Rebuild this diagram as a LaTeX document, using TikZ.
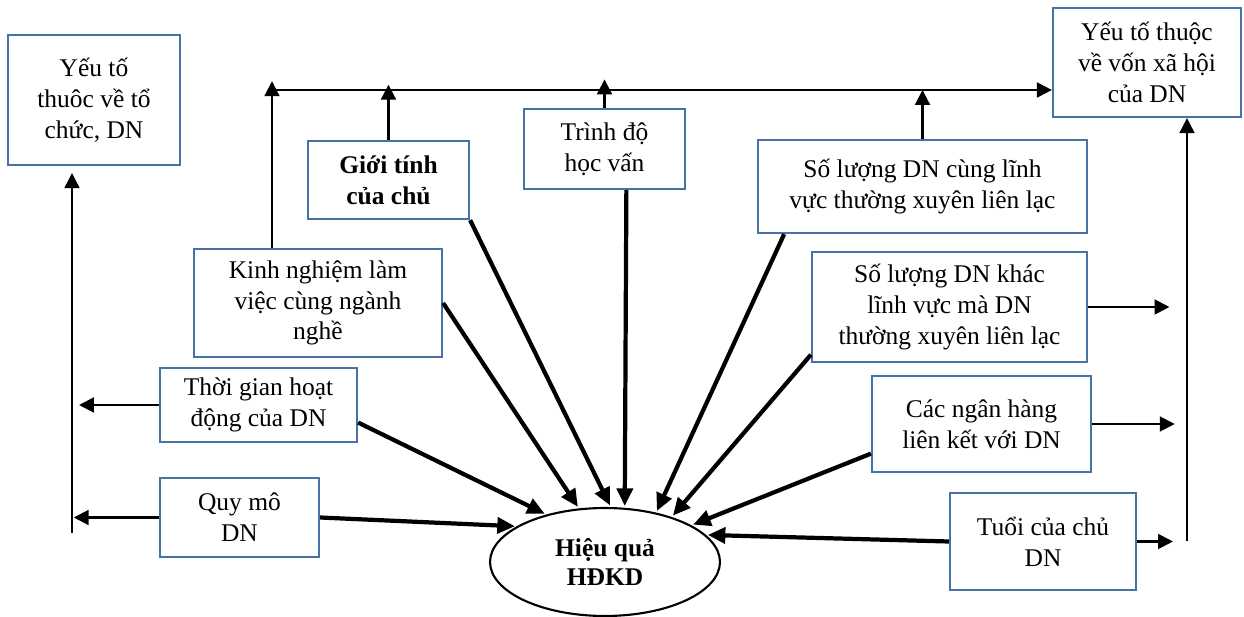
\documentclass[tikz,border=0pt]{standalone}
\usepackage{fontspec}
\setmainfont{Liberation Serif}
\usepackage{xcolor}
\usepackage{tikz}
\usetikzlibrary{arrows.meta,shapes.geometric,calc}
\definecolor{boxblue}{RGB}{70,115,165}
\tikzset{
  box/.style={draw=boxblue, line width=1.3pt, align=center, inner sep=2pt, fill=white, font=\fontsize{14.5}{17.5}\selectfont},
  core/.style={draw, ellipse, line width=1.2pt, align=center, inner sep=1pt, fill=white, font=\fontsize{14.5}{16.5}\selectfont\bfseries},
  link/.style={-{Triangle[length=8.5pt,width=8.5pt]}, line width=1.2pt},
  drive/.style={-{Triangle[length=10pt,width=9pt]}, line width=2.4pt, shorten >=1pt},
}

\begin{document}
\begin{tikzpicture}[x=0.02cm, y=-0.02cm]
  \useasboundingbox (0,0) rectangle (1244,617);
  \node[box, minimum width=3.44cm, minimum height=2.6cm] (orgf) at (94,100) {Yếu tố\\thuôc về tổ\\chức, DN};
  \node[box, minimum width=3.76cm, minimum height=2.18cm] (socf) at (1147,62.5) {Yếu tố thuộc\\về vốn xã hội\\của DN};
  \node[box, minimum width=3.22cm, minimum height=1.56cm, font=\fontsize{14.5}{17.5}\selectfont\bfseries] (gender) at (388.5,180) {Giới tính\\của chủ};
  \node[box, minimum width=3.22cm, minimum height=1.6cm] (edu) at (604.5,149) {Trình độ\\học vấn};
  \node[box, minimum width=6.58cm, minimum height=1.86cm] (same) at (922.5,186.5) {Số lượng DN cùng lĩnh\\vực thường xuyên liên lạc};
  \node[box, minimum width=4.96cm, minimum height=2.16cm] (exp) at (318,303) {Kinh nghiệm làm\\việc cùng ngành\\nghề};
  \node[box, minimum width=3.94cm, minimum height=1.48cm] (tenure) at (258.5,405) {Thời gian hoạt\\động của DN};
  \node[box, minimum width=5.5cm, minimum height=2.2cm] (other) at (949.5,307) {Số lượng DN khác\\lĩnh vực mà DN\\thường xuyên liên lạc};
  \node[box, minimum width=4.38cm, minimum height=1.92cm] (banks) at (981.5,424) {Các ngân hàng\\liên kết với DN};
  \node[box, minimum width=3.18cm, minimum height=1.58cm] (size) at (239.5,517.5) {Quy mô\\DN};
  \node[box, minimum width=3.72cm, minimum height=1.94cm] (ownerage) at (1043,541.5) {Tuổi của chủ\\DN};
  \node[core, minimum width=4.6cm, minimum height=2.16cm] (perf) at (605,562) {Hiệu quả\\HĐKD};
  \coordinate (busL) at (272,90);
  \coordinate (lbus) at (72,533);
  \coordinate (rbus) at (1187,541);
  \draw[link] (busL) -- (socf.west |- busL);
  \draw[link, shorten >=-5pt] (exp.north -| busL) -- (busL);
  \draw[link, shorten >=-3pt] (gender.north) -- (gender.north |- busL);
  \draw[link, shorten >=-6pt] (edu.north) -- (edu.north |- busL);
  \draw[link] (same.north) -- (same.north |- busL);
  \draw[link] (rbus) -- (rbus |- socf.south);
  \draw[link, shorten >=10pt] (other.east) -- (other.east -| rbus);
  \draw[link, shorten >=7pt] (banks.east) -- (banks.east -| rbus);
  \draw[link, shorten >=8pt] (ownerage.east) -- (ownerage.east -| rbus);
  \draw[link, shorten >=4pt] (lbus) -- (lbus |- orgf.south);
  \draw[link, shorten >=4pt] (tenure.west) -- (tenure.west -| lbus);
  \draw[link, shorten >=1pt] (size.west) -- (size.west -| lbus);
  \draw[drive] (size.east) -- (perf.158);
  \draw[drive] (tenure.-10) -- (perf.141);
  \draw[drive] (exp.east) -- (perf.116);
  \draw[drive] (gender.south east) -- (perf.84);
  \draw[drive] (edu.-62) -- (perf.70);
  \draw[drive] (same.199) -- (perf.44);
  \draw[drive] (other.199) -- (perf.34);
  \draw[drive] (banks.195) -- (perf.23);
  \draw[drive] (ownerage.west) -- (perf.15);
\end{tikzpicture}
\end{document}
